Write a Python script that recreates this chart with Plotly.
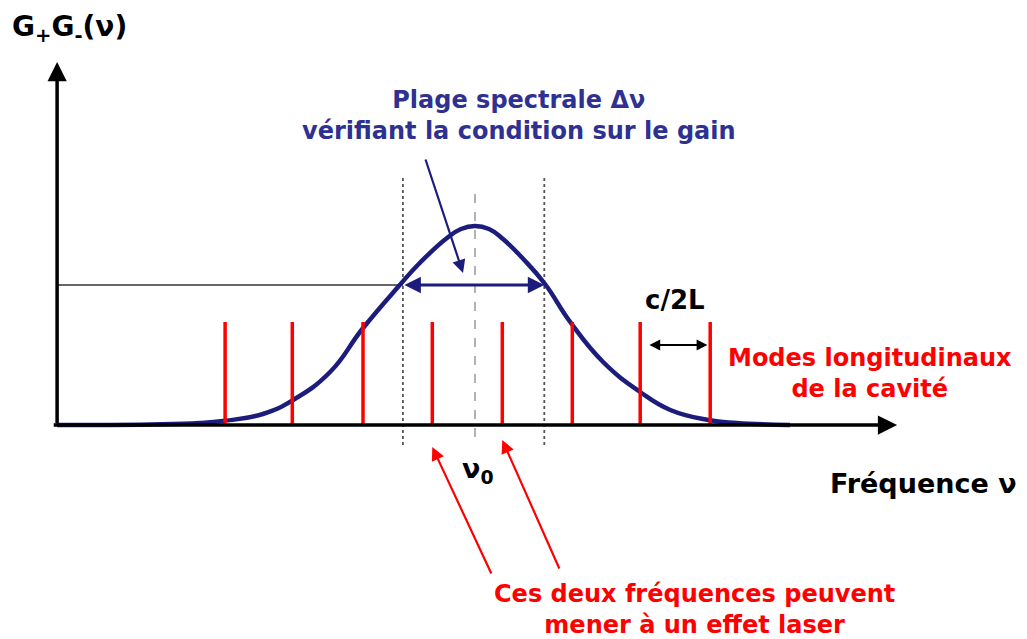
import plotly.graph_objects as go

# gain curve G+G-(nu), frequency in units of c/2L relative to nu0, gain normalised to peak
gain_nu = [-5.97, -4.64, -3.93, -3.6, -3.03, -2.6, -2.07, -1.61, -1.1, -0.79, -0.4, -0.2, 0.0,
           0.2, 0.4, 0.69, 1.0, 1.36, 1.83, 2.36, 2.79, 3.33, 3.74, 4.5]
gain_g = [0.0, 0.003, 0.01, 0.02, 0.055, 0.125, 0.265, 0.48, 0.69, 0.81, 0.935, 0.98, 0.995,
          0.98, 0.93, 0.83, 0.705, 0.515, 0.315, 0.165, 0.075, 0.025, 0.01, 0.0]

# longitudinal modes of the cavity
mode_nu = [-3.57, -2.61, -1.6, -0.61, 0.39, 1.39, 2.36, 3.36]
mode_height = 0.515

threshold = 0.70
band_edges = [-1.03, 0.99]
nu0 = 0.0

axis_x0, axis_x1 = -5.97, 6.03
axis_y1 = 1.815

txt_band = "Plage spectrale \u0394\u03bd<br>vérifiant la condition sur le gain"
txt_fsr = "c/2L"
txt_modes = "Modes longitudinaux<br>de la cavité"
txt_xlabel = "Fréquence \u03bd"
txt_ylabel = "G<sub>+</sub>G<sub>-</sub>(\u03bd)"
txt_nu0 = "\u03bd<sub>0</sub>"
txt_laser = "Ces deux fréquences peuvent<br>mener à un effet laser"

colors = {
    'curve': '#1c1c7c',
    'blue_text': '#2e3192',
    'red': '#ff0000',
    'black': '#000000',
}
FONT = "DejaVu Sans"

fig = go.Figure()

# dotted limits of the spectral band and centre line
for xe in band_edges:
    fig.add_trace(go.Scatter(x=[xe, xe], y=[-0.1, 1.235], mode='lines',
                             line=dict(color='#555555', width=1.8, dash='dot'),
                             hoverinfo='skip', showlegend=False))
fig.add_trace(go.Scatter(x=[nu0, nu0], y=[-0.06, 1.175], mode='lines',
                         line=dict(color='#666666', width=1, dash='dash'),
                         hoverinfo='skip', showlegend=False))

# threshold line
fig.add_trace(go.Scatter(x=[axis_x0, band_edges[0]], y=[threshold, threshold], mode='lines',
                         line=dict(color='#333333', width=1.6),
                         hoverinfo='skip', showlegend=False))

# gain curve
fig.add_trace(go.Scatter(x=gain_nu, y=gain_g, mode='lines',
                         line=dict(color=colors['curve'], width=4.5, shape='spline', smoothing=1.3),
                         hoverinfo='skip', showlegend=False))

# modes
mx, my = [], []
for m in mode_nu:
    mx += [m, m, None]
    my += [0, mode_height, None]
fig.add_trace(go.Scatter(x=mx, y=my, mode='lines',
                         line=dict(color=colors['red'], width=3.5),
                         hoverinfo='skip', showlegend=False))

annotations = []

def arrow(x, y, ax, ay, color, width, head=2, size=1.0, side='end'):
    annotations.append(dict(x=x, y=y, ax=ax, ay=ay, xref='x', yref='y', axref='x', ayref='y',
                            showarrow=True, arrowhead=head, arrowsize=size, arrowwidth=width,
                            arrowcolor=color, arrowside=side, standoff=0, startstandoff=0, text=''))

# axes
arrow(axis_x0, axis_y1, axis_x0, 0, colors['black'], 3.5, head=2, size=1.1)
arrow(axis_x1, 0, axis_x0 - 0.07, 0, colors['black'], 3.5, head=2, size=1.1)

# band double arrow
arrow(band_edges[1], threshold, band_edges[0], threshold, colors['curve'], 3, head=2, size=1.1, side='end+start')
# arrow from band text
arrow(-0.171, 0.76, -0.714, 1.335, colors['curve'], 2.2, head=2, size=1.2)
# c/2L
arrow(mode_nu[7] - 0.04, 0.40, mode_nu[6] + 0.11, 0.40, colors['black'], 1.8, head=2, size=1.2, side='end+start')
# red arrows to the two central modes
arrow(mode_nu[3], -0.11, 0.243, -0.75, colors['red'], 2.2, head=2, size=1.2)
arrow(mode_nu[4], -0.075, 1.214, -0.725, colors['red'], 2.2, head=2, size=1.2)

def label(x, y, text, color, size, xanchor='center'):
    annotations.append(dict(x=x, y=y, xref='x', yref='y', text=text, showarrow=False,
                            xanchor=xanchor, yanchor='middle', align='center',
                            font=dict(family=FONT, size=size, color=color)))

label(0.63, 1.55, "<b>" + txt_band + "</b>", colors['blue_text'], 24)
label(2.86, 0.625, "<b>" + txt_fsr + "</b>", colors['black'], 26)
label(5.64, 0.26, "<b>" + txt_modes + "</b>", colors['red'], 24)
label(6.4, -0.29, "<b>" + txt_xlabel + "</b>", colors['black'], 27)
label(-6.65, 1.985, "<b>" + txt_ylabel + "</b>", colors['black'], 28, xanchor='left')
label(0.04, -0.225, "<b>" + txt_nu0 + "</b>", colors['black'], 27)
label(3.13, -0.92, "<b>" + txt_laser + "</b>", colors['red'], 24)

# the page body has an 8 px margin, so the figure starts 8 px into the window
fig.update_layout(
    width=1019, height=631,
    margin=dict(l=0, r=0, t=0, b=0),
    plot_bgcolor='white', paper_bgcolor='white',
    xaxis=dict(range=[(8 - 475) / 70, (1027 - 475) / 70], visible=False, fixedrange=True),
    yaxis=dict(range=[(425 - 639) / 200, (425 - 8) / 200], visible=False, fixedrange=True),
    annotations=annotations,
    showlegend=False,
)

fig.write_html("out.html")
